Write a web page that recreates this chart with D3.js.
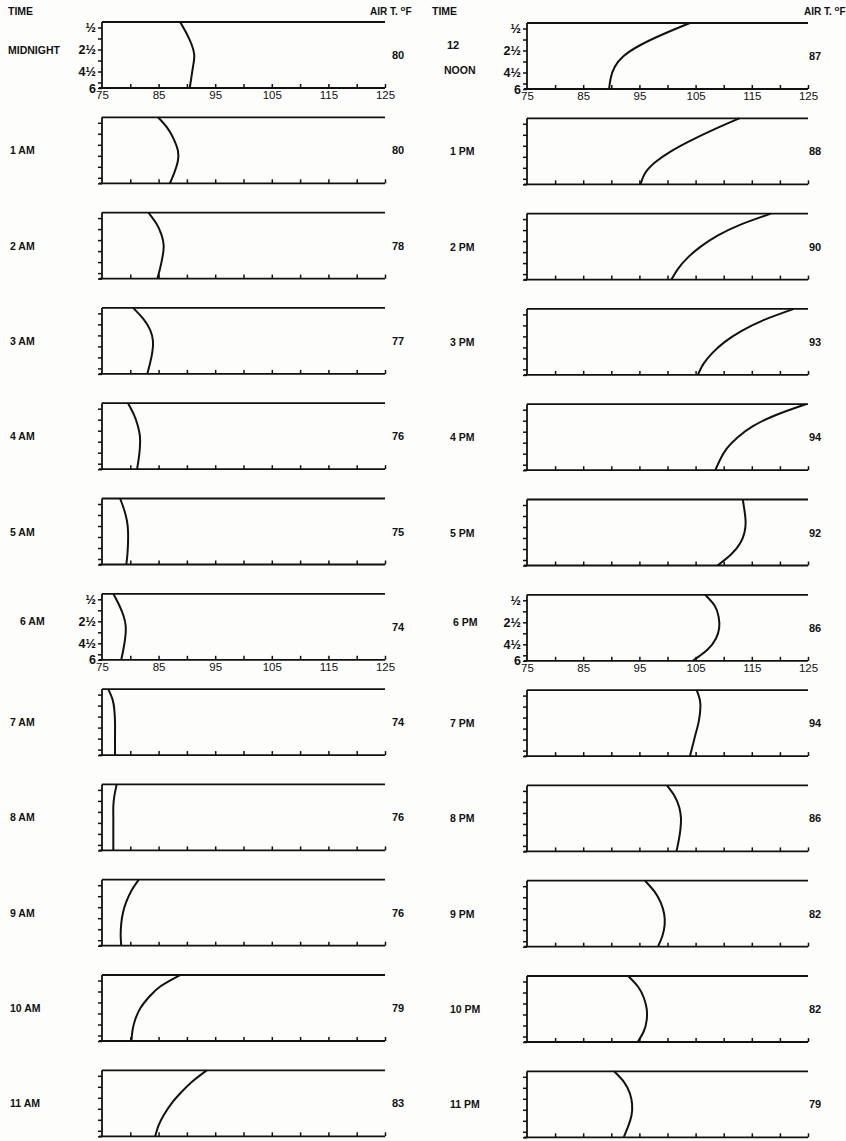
<!DOCTYPE html>
<html>
<head>
<meta charset="utf-8">
<script src="https://cdn.jsdelivr.net/npm/d3@7"></script>
<style>
  html,body{margin:0;padding:0;background:#fdfdfb;}
  svg{display:block;}
  text{font-family:"Liberation Sans","DejaVu Sans",sans-serif;fill:#111;}
</style>
</head>
<body>
<svg id="chart" width="846" height="1141"></svg>
<script>
// ---------------- DATA ----------------
const depths = [0, 1, 2, 3, 4, 5, 6];              // inches below surface
const depthTicks = [0.5, 1.5, 2.5, 3.5, 4.5, 5.5, 6];
const depthTickLabels = [[0.5, "½"], [2.5, "2½"], [4.5, "4½"], [6, "6"]];
const tempDomain = [75, 125];
const tempTicks = [80, 85, 90, 95, 100, 105, 110, 115, 120, 125];
const tempTickLabels = [75, 85, 95, 105, 115, 125];

const timesAM = ["MIDNIGHT", "1 AM", "2 AM", "3 AM", "4 AM", "5 AM", "6 AM", "7 AM", "8 AM", "9 AM", "10 AM", "11 AM"];
const timesPM = ["12 NOON", "1 PM", "2 PM", "3 PM", "4 PM", "5 PM", "6 PM", "7 PM", "8 PM", "9 PM", "10 PM", "11 PM"];
const airAM = [80, 80, 78, 77, 76, 75, 74, 74, 76, 76, 79, 83];
const airPM = [87, 88, 90, 93, 94, 92, 86, 94, 86, 82, 82, 79];

// soil temperature (°F) at depths 0..6 in
const soilAM = [
  [88.8, 89.9, 90.8, 91.3, 91.1, 90.8, 90.5],   // midnight
  [84.9, 86.6, 87.7, 88.4, 88.4, 87.8, 87.0],   // 1 AM
  [83.2, 84.6, 85.5, 85.9, 85.7, 85.3, 84.8],   // 2 AM
  [80.5, 82.3, 83.5, 84.0, 83.9, 83.5, 83.0],   // 3 AM
  [79.6, 80.6, 81.3, 81.7, 81.7, 81.5, 81.2],   // 4 AM
  [78.2, 78.9, 79.4, 79.6, 79.6, 79.5, 79.3],   // 5 AM
  [77.0, 78.0, 78.8, 79.2, 79.1, 78.8, 78.4],   // 6 AM
  [76.1, 76.9, 77.2, 77.3, 77.3, 77.3, 77.3],   // 7 AM
  [77.6, 77.2, 77.0, 77.0, 77.0, 77.0, 77.0],   // 8 AM
  [81.5, 80.2, 79.3, 78.7, 78.4, 78.3, 78.4],   // 9 AM
  [88.8, 85.4, 83.3, 81.8, 80.9, 80.4, 80.2],   // 10 AM
  [93.5, 91.0, 89.0, 87.3, 86.0, 85.0, 84.4]    // 11 AM
];
const soilPM = [
  [104.0, 99.3, 95.2, 92.2, 90.6, 89.9, 89.6],      // noon
  [112.8, 108.3, 104.2, 100.6, 97.8, 96.0, 95.2],   // 1 PM
  [118.4, 113.0, 108.9, 105.9, 103.6, 101.9, 100.7],// 2 PM
  [122.5, 117.2, 113.2, 110.2, 108.0, 106.4, 105.4],// 3 PM
  [124.6, 119.2, 115.2, 112.5, 110.6, 109.4, 108.5],// 4 PM
  [113.4, 113.7, 113.9, 113.7, 112.9, 111.3, 108.9],// 5 PM
  [106.7, 108.4, 109.1, 109.2, 108.6, 107.1, 104.5],// 6 PM
  [105.2, 105.8, 105.8, 105.5, 105.0, 104.5, 104.0],// 7 PM
  [99.9, 101.3, 102.1, 102.4, 102.3, 102.0, 101.6], // 8 PM
  [96.0, 97.7, 98.8, 99.4, 99.5, 99.1, 98.3],       // 9 PM
  [93.0, 94.8, 95.8, 96.3, 96.3, 95.8, 94.7],       // 10 PM
  [90.5, 92.3, 93.3, 93.7, 93.6, 93.0, 92.2]        // 11 PM
];

// ---------------- LAYOUT ----------------
const svg = d3.select("#chart");
const panelH = 66, firstTop = 22, step = 95.3;
const columns = [
  {times: timesAM, air: airAM, soil: soilAM, x0: 102, x1: 385, timeX: 10, airX: 398, headTimeX: 8, headAirX: 370, dy: 0},
  {times: timesPM, air: airPM, soil: soilPM, x0: 527, x1: 808, timeX: 450, airX: 815, headTimeX: 432, headAirX: 804, dy: 1}
];

columns.forEach((col, ci) => {
  const x = d3.scaleLinear().domain(tempDomain).range([col.x0, col.x1]);

  // headers
  svg.append("text").attr("x", col.headTimeX).attr("y", 15)
    .attr("font-size", 10.5).attr("font-weight", "bold").text("TIME");
  const air = svg.append("text").attr("x", col.headAirX).attr("y", 15)
    .attr("font-size", 10).attr("font-weight", "bold");
  air.append("tspan").text("AIR T. ");
  air.append("tspan").attr("dy", -4).attr("font-size", 8).text("o");
  air.append("tspan").attr("dy", 4).text("F");

  col.times.forEach((t, i) => {
    const top = firstTop + col.dy + i * step;
    const y = d3.scaleLinear().domain([0, 6]).range([top, top + panelH]);
    const g = svg.append("g");
    const labelled = (i === 0 || i === 6);

    // top line
    g.append("line").attr("x1", col.x0).attr("x2", col.x1)
      .attr("y1", y(0)).attr("y2", y(0))
      .attr("stroke", "#111").attr("stroke-width", 1.8);

    // left axis (depth)
    const yAxis = d3.axisLeft(y).tickValues(depthTicks).tickSize(4).tickFormat("");
    const ya = g.append("g").attr("transform", `translate(${col.x0},0)`).call(yAxis);
    ya.select(".domain").attr("stroke", "#111").attr("stroke-width", 1.8)
      .attr("d", `M0,${y(0)}V${y(6)}`);
    ya.selectAll(".tick line").attr("stroke", "#111").attr("stroke-width", 1.5);

    if (labelled) {
      depthTickLabels.forEach(([d, lab]) => {
        g.append("text").attr("x", col.x0 - 6).attr("y", y(d) + 4.5)
          .attr("text-anchor", "end").attr("font-size", 12.5).attr("font-weight", "bold")
          .text(lab);
      });
    }

    // bottom axis (temperature)
    const xAxis = d3.axisTop(x).tickValues(tempTicks).tickSize(4).tickFormat("");
    const xa = g.append("g").attr("transform", `translate(0,${y(6)})`).call(xAxis);
    xa.select(".domain").attr("stroke", "#111").attr("stroke-width", 1.8)
      .attr("d", `M${col.x0 - 3},0H${col.x1}`);
    xa.selectAll(".tick line").attr("stroke", "#111").attr("stroke-width", 1.5);

    if (labelled) {
      const xl = d3.axisBottom(x).tickValues(tempTickLabels).tickSize(0).tickPadding(3);
      const xg = g.append("g").attr("transform", `translate(0,${y(6)})`).call(xl);
      xg.select(".domain").remove();
      xg.selectAll("text").attr("font-size", 11.5).attr("font-family", "Liberation Sans, sans-serif").attr("fill", "#111");
    }

    // soil temperature profile
    const pts = depths.map((d, k) => [col.soil[i][k], d]);
    const line = d3.line().x(p => x(p[0])).y(p => y(p[1])).curve(d3.curveNatural);
    g.append("path").attr("d", line(pts)).attr("fill", "none")
      .attr("stroke", "#111").attr("stroke-width", 2);

    // time label
    const midY = top + panelH / 2;
    if (t === "12 NOON") {
      g.append("text").attr("x", col.timeX - 3).attr("y", top + 26).attr("font-size", 11).attr("font-weight", "bold").text("12");
      g.append("text").attr("x", col.timeX - 6).attr("y", top + 51).attr("font-size", 10.5).attr("font-weight", "bold").text("NOON");
    } else if (t === "MIDNIGHT") {
      g.append("text").attr("x", 8).attr("y", y(2.5) + 4.5).attr("font-size", 10.5).attr("font-weight", "bold").text(t);
    } else {
      const tx = (i === 6) ? col.timeX + (ci === 0 ? 10 : 3) : col.timeX;
      g.append("text").attr("x", tx).attr("y", (i === 6 ? y(2.5) : midY) + 4)
        .attr("font-size", 10.5).attr("font-weight", "bold").text(t);
    }

    // air temperature
    g.append("text").attr("x", col.airX).attr("y", midY + 4).attr("text-anchor", "middle")
      .attr("font-size", 11).attr("font-weight", "bold").text(col.air[i]);
  });
});
</script>
</body>
</html>
